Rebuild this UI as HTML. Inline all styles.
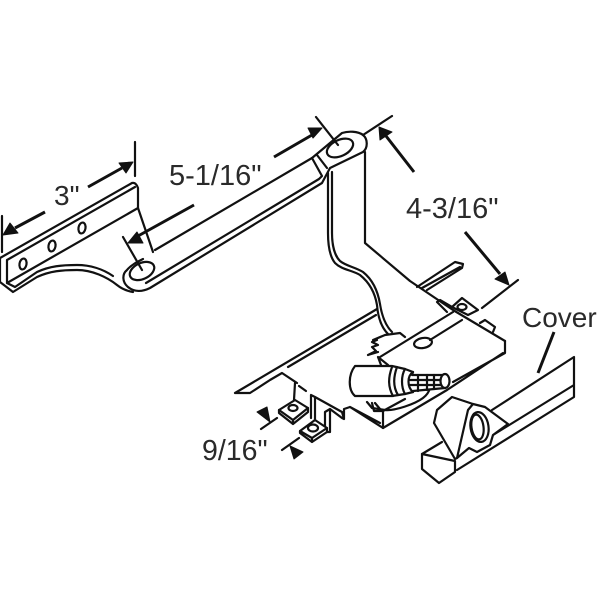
<!DOCTYPE html>
<html><head><meta charset="utf-8"><style>
html,body{margin:0;padding:0;background:#fff}
svg{display:block}
text{font-family:"Liberation Sans",sans-serif;font-size:28px;fill:#2a2a2a}
.l{fill:none;stroke:#111;stroke-width:2.200;stroke-linejoin:round;stroke-linecap:round}
.w{fill:#fff;stroke:#111;stroke-width:2.200;stroke-linejoin:round;stroke-linecap:round}
.t{fill:none;stroke:#111;stroke-width:3;stroke-linecap:butt}
.a{fill:#111;stroke:#111;stroke-width:1;stroke-linejoin:round}
</style></head><body>
<svg width="600" height="600" viewBox="0 0 600 600" xmlns="http://www.w3.org/2000/svg">
<rect width="600" height="600" fill="#fff"/>
<!-- upright arm and wire -->
<path class="l" d="M328 173V233C328 248 331 258 335 263C342 270 352 270 360 275C370 283 375 293 377 305C378 318 382 328 388 334"/>
<path class="l" d="M332 172V233C332 246 335 256 340 261C346 266 355 267 363 272C373 280 378 292 380 304C382 317 386 326 392 332"/>
<path class="l" d="M365 152V243L410 281L453 310L505 341"/>
<!-- left bracket -->
<path class="l" d="M0 258L132 183Q136 182 138 188V208L7 283V260L135 187"/>
<path class="l" d="M0 258V282L13 292L37 277C50 271 62 270 77 270C92 270 107 277 117 285C122 289 127 291 133 292"/>
<path class="l" d="M7 283L15 287L37 272C50 266 62 265 77 265C90 265 103 269 113 276"/>
<path class="l" d="M138 208L153 252"/>
<ellipse class="l" cx="23" cy="264" rx="3.500" ry="5.500" transform="rotate(10 23 264)"/>
<ellipse class="l" cx="52" cy="246" rx="3.500" ry="5.500" transform="rotate(10 52 246)"/>
<ellipse class="l" cx="82" cy="228" rx="3.500" ry="5.500" transform="rotate(10 82 228)"/>
<!-- long arm -->
<path class="l" d="M155 250L312 158L342 133C348 131 358 131 363 135C368 139 368 148 363 152L330 168L322 183L150 288C142 292 134 292 128 287C122 282 122 274 127 270C131 265 137 262 143 259"/>
<path class="l" d="M312 158L322 176L319 179L146 283"/>
<path class="l" d="M317 155L327 168"/>
<ellipse class="l" cx="142" cy="271" rx="13" ry="8" transform="rotate(-25 142 271)"/>
<ellipse class="l" cx="340" cy="148" rx="14" ry="8" transform="rotate(-25 340 148)"/>
<!-- slider track -->
<path class="l" d="M235 393L377 309M288 367L376 315M235 393H250L270 380L282 373L297 383"/>
<path class="l" d="M417 287L455 262L463 264L462 268L427 290M422 288L460 267"/>
<path class="l" d="M299 386L306 391M295 383L294 400"/>
<path class="l" d="M311 395V418M311 395L315 397V420M315 397L342 412L344 419L344 409L350 407L383 428M325 429V412L330 409L342 418L344 419M330 409V432L327 432M350 407L380 423"/>
<!-- mounting plates -->
<path class="w" d="M279 410L295 400L308 408L293 420Z"/>
<path class="l" d="M279 410V413L293 424L308 412V408M293 420V424"/>
<ellipse class="l" cx="293" cy="408" rx="4.500" ry="3"/>
<path class="w" d="M300 431L315 420L327 428L312 438Z"/>
<path class="l" d="M300 431V433L312 442L327 432V428M312 438V442"/>
<ellipse class="l" cx="313" cy="428" rx="5" ry="3.500"/>
<!-- body -->
<path class="l" d="M380 357L453 312"/>
<path class="l" d="M505 341V353L453 382M503 353L447 390M383 428L447 390M383 411V428"/>
<path class="l" d="M367 402L372 408L385 410C395 411 415 404 423 398C427 395 429 392 430 388"/>
<path class="l" d="M372 403L374 411H383L405 399M380 409L375 403"/>
<path class="l" d="M368 355L376 351L372 347L378 345L372 342L377 340L373 340L385 335L400 333L405 337M368 355L378 352"/>
<path class="l" d="M378 357L388 365M378 357L381 365"/>
<ellipse class="l" cx="423" cy="343" rx="9" ry="5" transform="rotate(-10 423 343)"/>
<path class="l" d="M430 340L462 320"/>
<path class="l" d="M437 302L440 300L452 307M437 302L447 312"/>
<path class="w" d="M452 307L462 298L478 310L468 315Z"/>
<ellipse class="l" cx="462" cy="307" rx="4.500" ry="3"/>
<path class="l" d="M480 323L485 320L495 327L493 332"/>
<!-- cylinder -->
<path class="w" d="M355 366H392L405 369L413 372L412 375H445V388L413 391V392L405 394L392 396H355C348 390 348 375 355 366Z"/>
<path class="l" d="M392 367C388 378 388 387 393 396M397 367C393 378 393 387 398 395M405 369C401 376 401 387 405 394M413 372C407 376 407 387 413 392"/>
<path class="l" d="M418 375V391M427 375V390M434 375V389M410 380H441M410 385H441"/>
<ellipse class="w" cx="445" cy="381" rx="4.500" ry="7"/>
<!-- cover -->
<path class="l" d="M492 410L574 357V397L457 470M574 385L493 435"/>
<path class="w" d="M422 454L455 461V472L439 483L422 469Z"/>
<path class="l" d="M422 454L442 442"/>
<path class="w" d="M455 459L434 423L437 410L452 397L473 404L485 407L508 424L493 435L490 445L477 452L469 448L457 458Z"/>
<path class="l" d="M457 458L468 410L473 404"/>
<ellipse class="l" cx="479.500" cy="427" rx="9" ry="15" transform="rotate(-8 479.500 427)"/>
<ellipse class="l" cx="477.500" cy="427" rx="6" ry="12.500" transform="rotate(-8 477.500 427)"/>
<path class="t" d="M554 332L538 373"/>
<!-- dimensions -->
<path class="l" d="M135 142V176M2 216V252M123 237L142 270M316 117L338 145M363 135L392 116M482 308L518 280M261 429L277 418M282 450L299 438"/>
<path class="t" d="M88 187L122 168M45 212L15 228M194 205L138 236M274 157L312 135M386 136L414 172M465 232L500 274"/>
<path class="a" d="M133 162L119 163L126 173Z"/>
<path class="a" d="M3 235L10 223L18 233Z"/>
<path class="a" d="M128 243L137 232L143 243Z"/>
<path class="a" d="M322 128L308 128L313 138Z"/>
<path class="a" d="M379 127L380 140L392 132Z"/>
<path class="a" d="M509 285L495 279L505 272Z"/>
<path class="a" d="M257 412L267 407L270 422Z"/>
<path class="a" d="M290 446L303 452L294 459Z"/>
<text x="54" y="205">3"</text>
<text x="169" y="185" style="font-size:29px">5-1/16"</text>
<text x="406" y="218" style="font-size:29px">4-3/16"</text>
<text x="202" y="460" style="font-size:28.500px">9/16"</text>
<text x="522" y="327">Cover</text>
</svg>
</body></html>
